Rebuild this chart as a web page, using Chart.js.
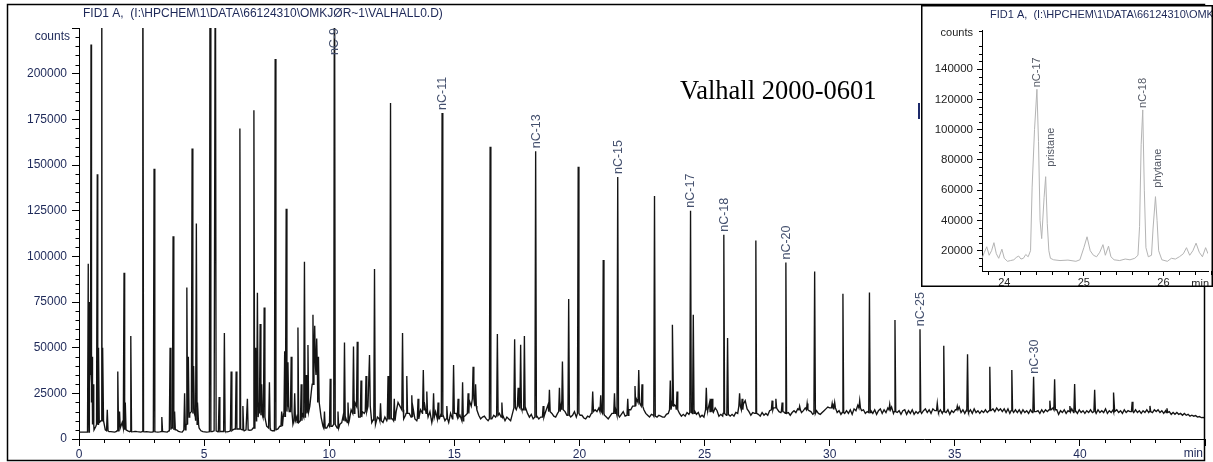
<!DOCTYPE html>
<html><head><meta charset="utf-8">
<script src="https://cdn.jsdelivr.net/npm/chart.js@4"></script>
<style>
html,body{margin:0;padding:0;background:#fff;}
#wrap{position:relative;width:1213px;height:462px;overflow:hidden;background:#fff;}
#main{position:absolute;left:0;top:0;}
#inset{position:absolute;left:921px;top:5px;}
</style></head><body>
<div id="wrap">
<canvas id="main" width="1213" height="462"></canvas>
<canvas id="inset" width="292" height="282"></canvas>
</div>
<script>
// ---------- DATA (main chromatogram) ----------
const titleText = "FID1 A,  (I:\\HPCHEM\\1\\DATA\\66124310\\OMKJØR~1\\VALHALL0.D)";
const sampleText = "Valhall 2000-0601";
const xTickValues = [0,5,10,15,20,25,30,35,40,45];
const yTickValues = [0,25000,50000,75000,100000,125000,150000,175000,200000,225000];

// baseline samples, every 0.075 min from 0 to 45 min (20 per row = 1.5 min)
const baseStart = 0, baseStep = 0.075;
const baseCounts = [
3800,3800,3800,3800,3800,30000,25000,6000,5000,7000,8000,9000,12000,8000,5000,4200,4000,4000,3900,3800,
4200,5000,8000,9000,7000,6000,4500,4000,3900,4000,4200,4000,3900,3800,3800,3900,4000,3900,3800,3800,
4000,3900,3800,3900,4200,4000,3900,3800,4500,6000,7000,8000,5000,4200,3900,3800,4500,6000,9000,14000,
16000,14000,12000,9000,6000,4500,4000,3900,3800,3900,4200,4000,4500,4000,3900,4000,4200,4100,4000,3900,
4200,4500,5000,5500,6000,5500,5000,4500,4500,5000,5500,4800,5000,4800,9000,13000,20000,16000,12000,10000,
7000,6000,5000,4500,4500,5000,5500,7000,9000,14000,18000,22000,15000,12000,8000,9000,12000,8000,10000,14000,
12000,16000,14000,18000,28000,40000,45000,38000,20000,12000,7000,5000,6000,8000,6000,7000,9000,7000,6000,8000,
9000,14000,12000,8000,10000,16000,13000,20000,22000,12000,10000,15000,14000,20000,18000,12000,9000,11000,8000,12000,
11000,7500,9000,12000,10000,12000,9000,11000,13000,15000,20000,18000,16000,11000,13000,10000,14000,12000,17000,11000,
10000,13000,16000,14000,20000,17000,12000,15000,9000,11000,15000,18000,11000,14000,13000,10000,12000,9000,14000,11000,
18000,14000,11000,13000,9000,12000,13000,17000,21000,18000,24000,20000,16000,13000,11000,12000,12500,11000,10000,12000,
11000,13000,12000,15000,14000,11000,12500,10000,12000,11000,10000,14000,18000,16000,20000,22000,16000,18000,17000,14000,
12000,13500,11000,12000,12500,11000,12000,14000,13000,16000,19000,17000,14000,12500,12000,14000,16000,19000,18000,15000,
13000,14000,12000,13000,15000,12000,14000,13000,13000,11500,11000,12500,12000,14000,19000,16000,15000,17000,17000,14000,
13000,12000,11000,12500,14000,13000,16000,14000,12000,13500,15000,12500,13000,16000,16000,18000,20000,22000,24000,19000,
18000,16000,14000,13000,12000,13500,13000,12000,12000,13000,12500,12000,12000,13500,14000,18000,20000,19000,18000,16000,
14000,12500,13500,12500,14500,13500,15500,14000,15500,13500,14500,12000,13000,12000,13500,15500,20000,17000,14500,17000,
15500,12500,13500,12500,14500,13000,14500,12500,13500,12500,14500,14000,17500,15500,19000,21000,16500,15000,13000,14500,
14000,12500,13500,12500,14500,13000,14000,13000,15500,19000,17000,20000,16500,15000,14500,13500,14500,13500,14500,13000,
14500,15500,14500,16500,17000,14500,15500,17000,17500,15500,15000,13500,14500,15500,14000,13500,14500,15500,16500,17500,
17000,19000,16500,17500,14500,15500,13500,16000,14000,15500,14000,16000,13500,16500,15500,18500,17000,15500,16000,14000,
15000,13500,15500,14000,16000,13500,15500,16500,14000,16000,14500,17000,15500,17500,14000,16000,14500,15500,13500,15500,
16000,13500,15500,14000,16000,13500,15000,14000,16000,14000,15500,16500,14500,16000,14000,16500,15500,17500,14500,16000,
14000,16000,14500,16000,13500,15500,14500,16000,15500,17500,14500,16000,14000,16000,14500,16000,14000,16500,14500,15500,
14000,15500,14500,16000,14500,16500,15500,16500,15000,17000,15500,16500,15000,16500,14500,16500,14000,15500,14500,16000,
14500,16000,14000,16000,14500,15500,14000,16000,14500,16500,15000,15500,14000,16000,14500,16000,15000,17500,16000,17000,
14500,16000,13500,15500,14500,16000,14000,15500,15500,16500,14500,15500,14000,16000,14500,15500,14000,15500,14500,16000,
14500,15500,14000,16000,14500,15500,14500,16500,14000,15500,14500,16000,15000,16000,14500,15500,14000,16000,14500,15500,
15000,16000,14500,16000,14500,15500,14000,15500,14500,16000,14500,15500,14500,16000,15000,16000,14500,15500,14000,15500,
14000,15000,13500,14500,13500,14500,13500,14000,13000,14000,13000,13500,12500,13000,12500,12800,12000,12300,11700,11800,
11500
];

// peaks: retention time (min), apex counts, foot counts
const peakTimes = [
0.37,0.40,0.43,0.48,0.52,0.56,0.73,0.78,0.91,0.95,
1.13,1.55,1.62,1.80,1.85,2.07,2.55,3.00,3.31,3.64,
3.76,3.82,4.22,4.31,4.37,4.52,4.58,4.69,4.75,5.24,
5.45,5.60,5.81,6.08,6.28,6.43,6.55,6.73,6.99,7.06,
7.13,7.24,7.30,7.40,7.61,7.84,8.10,8.22,8.28,8.35,
8.48,8.62,8.75,8.88,9.01,9.08,9.15,9.35,9.42,9.50,
9.57,9.81,10.04,10.21,10.35,10.61,10.75,10.97,11.12,11.27,
11.47,11.61,11.81,12.05,12.35,12.45,12.60,12.93,13.10,13.30,
13.55,13.76,13.90,14.17,14.35,14.51,14.70,14.97,15.15,15.33,
15.55,15.75,15.85,16.43,16.72,16.90,17.41,17.55,17.65,17.80,
18.25,18.55,18.80,19.20,19.32,19.57,19.95,20.53,20.85,20.95,
21.40,21.53,21.93,22.22,22.37,22.50,23.00,23.63,23.73,23.90,
24.44,24.55,25.07,25.25,25.30,25.77,25.92,26.40,26.50,27.05,
27.70,27.85,28.10,28.25,28.80,29.10,29.40,30.10,30.20,30.53,
31.20,31.59,32.40,32.61,33.61,34.30,34.56,35.10,35.51,36.40,
37.28,38.15,38.80,38.99,39.60,39.79,40.59,41.36,42.09,42.80,
43.48
];
const peakCounts = [
96000,60000,75000,216000,45000,30000,145000,50000,300000,50000,
16000,37000,15000,91000,20000,56400,300000,148000,12000,50000,
111000,15000,25000,83000,45000,159000,40000,118000,20000,300000,
300000,23000,58000,37000,37000,170000,18000,22000,180000,50000,
80000,63000,30000,72000,31000,208000,15000,48000,126000,42000,
45000,25000,61000,30000,97000,35000,51500,68000,62000,55000,
45000,15000,33000,300000,15000,52800,20000,50600,53300,32000,
34500,46000,93000,19500,34500,184000,22000,58000,34500,24000,
22000,37800,26000,25000,20000,178500,18000,40500,22000,31000,
25000,39500,30000,160000,57500,20000,54600,28000,51600,56400,
157500,18000,27000,28000,42400,76700,149000,26000,24000,98000,
25000,143400,22000,29000,37800,30000,133000,32000,62500,26000,
125000,68000,28000,22000,22000,111800,55300,25000,22000,108700,
21000,22000,20000,96600,18000,19500,91700,19500,20000,79500,
21000,80200,19000,65200,60100,19500,51000,18000,46400,39600,
37800,34100,21000,32700,18000,30100,26900,25400,20400,18100,
16800
];
const peakBase = [
3800,30000,35000,40000,20000,8000,8000,9000,10000,10000,
4500,4500,6000,6000,5000,4200,4000,4000,4000,5000,
6000,5000,5000,8000,12000,15000,14000,10000,8000,4000,
4500,4000,4200,4500,5500,5500,5000,5000,6000,10000,
12000,14000,13000,12000,6000,5000,7000,12000,15000,18000,
15000,10000,9000,10000,12000,14000,15000,30000,40000,35000,
20000,6000,7000,8000,6000,10000,9000,14000,18000,12000,
15000,18000,10000,10000,11000,11000,10000,16000,14000,12000,
11000,16000,14000,12000,11000,12000,11000,14000,12000,10000,
14000,22000,18000,11000,13000,12000,17000,18000,17000,16000,
12000,12000,15000,15000,16000,13000,14000,15000,15000,14000,
14000,13000,13000,18000,20000,18000,12500,16000,18000,16000,
14500,14000,16000,15000,15000,14000,13500,18000,16000,14000,
16000,17000,15000,14000,16000,16000,14000,17000,17000,14500,
17000,14500,16000,15000,15000,15500,15000,16000,15000,15500,
15500,15000,16000,16000,15000,15000,15000,15000,15000,15000,
14500
];

// labelled n-alkanes
const labelNames = ["nC-9","nC-11","nC-13","nC-15","nC-17","nC-18","nC-20","nC-25","nC-30"];
const labelTimes = [10.21,14.51,18.25,21.53,24.44,25.77,28.25,33.61,38.15];

// ---------- DATA (inset) ----------
const insetXTicks = [24,25,26];
const insetYTicks = [20000,40000,60000,80000,100000,120000,140000];
const insetTime = [
23.72,23.75,23.78,23.81,23.84,23.87,23.90,23.93,23.97,24.00,
24.04,24.08,24.12,24.15,24.18,24.21,24.24,24.27,24.30,24.33,
24.35,24.38,24.41,24.43,24.45,24.47,24.50,24.52,24.54,24.56,
24.58,24.62,24.70,24.80,24.90,24.95,25.00,25.04,25.08,25.12,
25.16,25.20,25.24,25.27,25.31,25.34,25.38,25.45,25.52,25.58,
25.64,25.68,25.70,25.72,25.74,25.76,25.78,25.81,25.85,25.87,
25.90,25.92,25.94,25.98,26.05,26.10,26.15,26.20,26.25,26.29,
26.33,26.37,26.41,26.45,26.49,26.53,26.56
];
const insetCounts = [
15000,19000,22600,17000,20000,25300,18000,15000,21000,15000,
13000,13500,14000,15500,16500,14500,15000,17500,16000,20000,
62000,100000,126600,92000,40000,28000,55000,68900,38000,20000,
15000,14000,13500,13800,13000,14000,22000,29200,20000,17000,
16000,19000,24000,17000,23000,16000,14000,13500,14500,14000,
15000,17000,36000,90000,113000,60000,22000,16000,17000,35000,
55700,40000,20000,14000,13000,15000,14500,16000,18000,22000,
17000,20000,25000,19000,16000,22000,18000
];
const insetLabelNames = ["nC-17","pristane","nC-18","phytane"];
const insetLabelTimes = [24.41,24.52,25.74,25.90];

// ---------- build main trace ----------
const mainPts = [];
baseCounts.forEach((c,i)=>{
  const t = +(baseStart + i*baseStep).toFixed(3);
  if (!peakTimes.some(p=>Math.abs(p-t)<0.03)) mainPts.push({x:t,y:c});
});
const PW = 0.03;
peakTimes.forEach((t,i)=>{
  mainPts.push({x:t-PW,y:peakBase[i]},{x:t,y:peakCounts[i]},{x:t+PW,y:peakBase[i]});
});
mainPts.sort((a,b)=>a.x-b.x);

const NAVY = '#1d2858';
const FONT = "'Liberation Sans', Arial, sans-serif";

function vline(ctx,x,y1,y2){ctx.beginPath();ctx.moveTo(x,y1);ctx.lineTo(x,y2);ctx.stroke();}
function hline(ctx,x1,x2,y){ctx.beginPath();ctx.moveTo(x1,y);ctx.lineTo(x2,y);ctx.stroke();}

const mainDeco = {
  id:'mainDeco',
  beforeDraw(chart){const c=chart.ctx;c.save();c.fillStyle='#fff';c.fillRect(0,0,chart.width,chart.height);c.restore();},
  afterDraw(chart){
    const {ctx, chartArea:a, scales:{x,y}} = chart;
    ctx.save();
    ctx.strokeStyle='#000'; ctx.lineWidth=1;
    for(let v=5000; v<225000; v+=5000){ if(v%25000){ const py=Math.round(y.getPixelForValue(v))+0.5; hline(ctx,a.left-3.5,a.left,py);} }
    for(let t=1; t<45; t++){ if(t%5){ const px=Math.round(x.getPixelForValue(t))+0.5; vline(ctx,px,a.bottom,a.bottom+4);} }
    // peak labels
    ctx.font = "12.5px " + FONT;
    ctx.fillStyle = '#44506e';
    ctx.textAlign='left'; ctx.textBaseline='middle';
    labelNames.forEach((n,i)=>{
      const t = labelTimes[i];
      const k = peakTimes.indexOf(t);
      const px = x.getPixelForValue(t);
      const w = ctx.measureText(n).width;
      let yb = y.getPixelForValue(peakCounts[k]) - 3;
      if (yb < a.top + w) yb = a.top + w;
      ctx.save(); ctx.translate(px+0.5, yb); ctx.rotate(-Math.PI/2); ctx.fillText(n,0,0); ctx.restore();
    });
    // texts
    ctx.fillStyle = NAVY;
    ctx.font = "12px " + FONT;
    ctx.textAlign='left'; ctx.textBaseline='middle';
    ctx.fillText(titleText, 83, 14);
    ctx.textAlign='right';
    ctx.fillText('counts', 70, 37);
    ctx.fillText('min', 1203, 454);
    ctx.fillStyle='#000'; ctx.textAlign='left'; ctx.textBaseline='alphabetic';
    ctx.font = "26.5px 'Liberation Serif', 'Times New Roman', serif";
    ctx.fillText(sampleText, 680, 99);
    ctx.fillStyle = '#1d2a6a'; ctx.fillRect(918,103,2,16);
    // outer frame
    ctx.strokeStyle='#000'; ctx.lineWidth=1.5;
    ctx.strokeRect(7.5,4.5,1197,456);
    ctx.restore();
  }
};

new Chart(document.getElementById('main'),{
  type:'line',
  data:{datasets:[{data:mainPts, borderColor:'#141414', borderWidth:1.35, pointRadius:0, tension:0, fill:false}]},
  options:{
    responsive:false, animation:false, events:[], normalized:true,
    layout:{padding:{left:0,right:8,top:28,bottom:0}},
    plugins:{legend:{display:false},tooltip:{enabled:false},title:{display:false}},
    scales:{
      x:{type:'linear', min:0, max:45,
        afterBuildTicks:s=>{s.ticks = xTickValues.map(v=>({value:v}));},
        afterFit:s=>{s.height=23;},
        grid:{drawOnChartArea:false, drawTicks:true, tickLength:7, tickColor:'#000', tickWidth:1},
        border:{display:true, color:'#000', width:1},
        ticks:{autoSkip:false, maxRotation:0, padding:1, color:NAVY, font:{family:FONT,size:12},
          callback:(v)=> v===45 ? '' : String(v)}
      },
      y:{type:'linear', min:0, max:225000,
        afterBuildTicks:s=>{s.ticks = yTickValues.map(v=>({value:v}));},
        afterFit:s=>{s.width=79;},
        grid:{drawOnChartArea:false, drawTicks:true, tickLength:7, tickColor:'#000', tickWidth:1},
        border:{display:true, color:'#000', width:1},
        ticks:{autoSkip:false, padding:5, color:NAVY, font:{family:FONT,size:12},
          callback:(v)=> v>=225000 ? '' : String(v)}
      }
    }
  },
  plugins:[mainDeco]
});

// ---------- inset ----------
const insetDeco = {
  id:'insetDeco',
  beforeDraw(chart){const c=chart.ctx;c.save();c.fillStyle='#fff';c.fillRect(0,0,chart.width,chart.height);c.restore();},
  afterDraw(chart){
    const {ctx, chartArea:a, scales:{x,y}} = chart;
    ctx.save();
    ctx.strokeStyle='#000'; ctx.lineWidth=1;
    for(let v=10000; v<=165000; v+=5000){ if(v%20000){ const py=Math.round(y.getPixelForValue(v))+0.5; hline(ctx,a.left-3,a.left,py);} }
    for(let k=0; k<=14; k++){ const t=23.8+k*0.2; if(Math.abs(t-Math.round(t))>0.01){ const px=Math.round(x.getPixelForValue(t))+0.5; vline(ctx,px,a.bottom,a.bottom+4);} }
    ctx.font = "11px " + FONT;
    ctx.fillStyle = '#555a66';
    ctx.textAlign='left'; ctx.textBaseline='middle';
    const off = [[0,2],[5,10],[0,2],[2,9]];
    insetLabelNames.forEach((n,i)=>{
      const t = insetLabelTimes[i];
      const k = insetTime.indexOf(t);
      const px = x.getPixelForValue(t) + off[i][0];
      const yb = y.getPixelForValue(insetCounts[k]) - off[i][1];
      ctx.save(); ctx.translate(px, yb); ctx.rotate(-Math.PI/2); ctx.fillText(n,0,0); ctx.restore();
    });
    ctx.fillStyle = NAVY; ctx.font = "11px " + FONT;
    ctx.textAlign='left';
    ctx.fillText(titleText, 69, 10);
    ctx.fillStyle='#222';
    ctx.textAlign='right';
    ctx.fillText('counts', 52, 28);
    ctx.fillText('min', 288, 279);
    ctx.strokeStyle='#000'; ctx.lineWidth=1.5;
    ctx.strokeRect(0.75,0.75,290.5,280.5);
    ctx.restore();
  }
};

new Chart(document.getElementById('inset'),{
  type:'line',
  data:{datasets:[{data:insetTime.map((t,i)=>({x:t,y:insetCounts[i]})), borderColor:'#b4b4b4', borderWidth:1, pointRadius:0, tension:0, fill:false}]},
  options:{
    responsive:false, animation:false, events:[],
    layout:{padding:{left:0,right:5,top:25,bottom:0}},
    plugins:{legend:{display:false},tooltip:{enabled:false}},
    scales:{
      x:{type:'linear', min:23.72, max:26.56,
        afterBuildTicks:s=>{s.ticks = insetXTicks.map(v=>({value:v}));},
        afterFit:s=>{s.height=16;},
        grid:{drawOnChartArea:false, drawTicks:true, tickLength:5, tickColor:'#000'},
        border:{display:true, color:'#000', width:1},
        ticks:{autoSkip:false, maxRotation:0, padding:0, color:'#222', font:{family:FONT,size:11},
          callback:(v)=>String(v)}
      },
      y:{type:'linear', min:6600, max:165800,
        afterBuildTicks:s=>{s.ticks = insetYTicks.map(v=>({value:v}));},
        afterFit:s=>{s.width=61;},
        grid:{drawOnChartArea:false, drawTicks:true, tickLength:5, tickColor:'#000'},
        border:{display:true, color:'#000', width:1},
        ticks:{autoSkip:false, padding:4, color:'#222', font:{family:FONT,size:11.5},
          callback:(v)=>String(v)}
      }
    }
  },
  plugins:[insetDeco]
});
</script>
</body></html>
